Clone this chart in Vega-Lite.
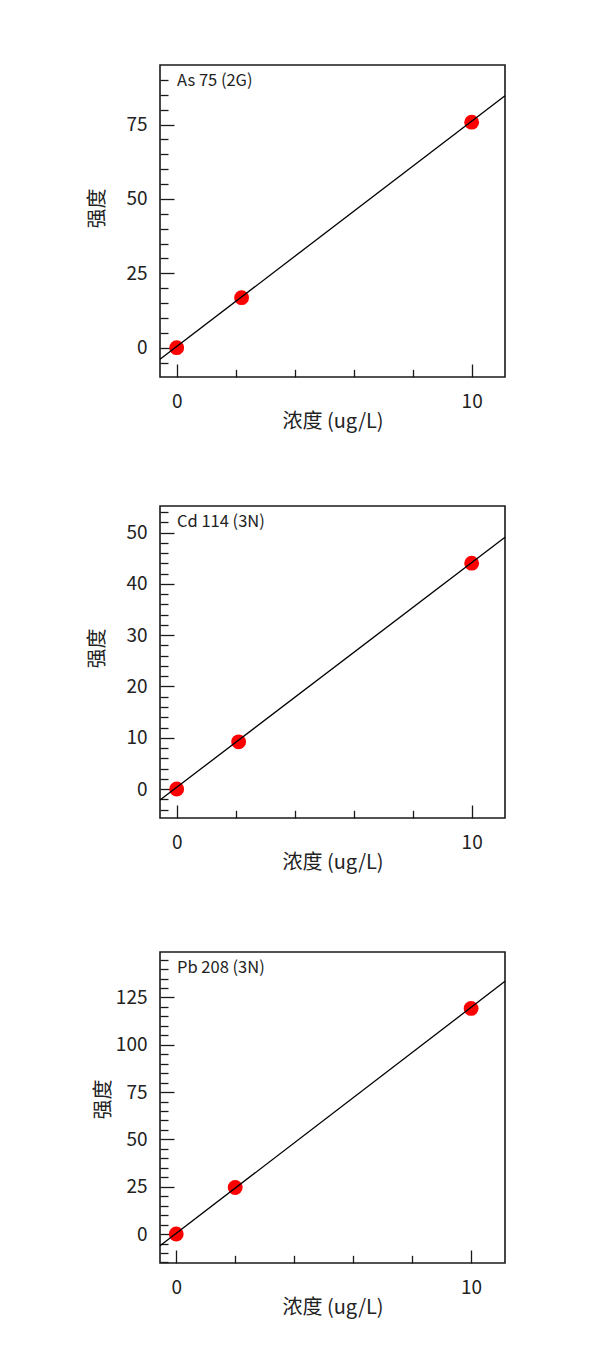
{
  "$schema": "https://vega.github.io/schema/vega-lite/v6.json",
  "background": "white",
  "padding": {"left": 86, "top": 64, "right": 20, "bottom": 20},
  "config": {
    "font": "Noto Sans CJK SC",
    "view": {"stroke": "#1a1a1a", "strokeWidth": 1.6},
    "axis": {
      "domain": false, "grid": false, "format": "d",
      "labelFont": "Noto Sans CJK SC", "labelFontSize": 19, "labelColor": "#222",
      "titleFont": "Noto Sans CJK SC", "titleFontSize": 20, "titleFontWeight": "normal", "titleColor": "#222",
      "tickColor": "#1a1a1a", "tickWidth": 1.3, "tickCount": 200,
      "labelOverlap": false, "labelFlush": false
    }
  },
  "spacing": 78,
  "vconcat": [
    {
      "spacing": 73,
      "vconcat": [
        {
          "width": 345, "height": 312,
          "title": {"text": "As 75 (2G)", "anchor": "start", "frame": "group", "offset": -37, "dx": 17, "baseline": "alphabetic", "fontSize": 16.5, "fontWeight": "normal", "font": "Noto Sans CJK SC", "color": "#222"},
          "resolve": {"axis": {"y": "independent"}},
          "layer": [
            {
              "data": {"values": [{"c": 0, "i": 0}, {"c": 2.2, "i": 16.8}, {"c": 10, "i": 75.8}]},
              "mark": {"type": "circle", "size": 220, "color": "#ff0000", "opacity": 1},
              "encoding": {
                "x": {"field": "c", "type": "quantitative", "title": "浓度 (ug/L)",
                  "scale": {"domain": [-0.566, 11.13], "nice": false, "zero": false},
                  "axis": {"values": [0, 2, 4, 6, 8, 10], "labelExpr": "datum.value % 10 === 0 ? datum.label : ''",
                    "tickSize": {"condition": {"test": "datum.value % 10 === 0", "value": -13}, "value": -7.7},
                    "labelPadding": 28, "minExtent": 35, "maxExtent": 35, "titlePadding": -1}},
                "y": {"field": "i", "type": "quantitative", "title": "强度",
                  "scale": {"domain": [-9.85, 95], "nice": false, "zero": false},
                  "axis": {"orient": "left", "values": [0, 25, 50, 75], "tickSize": -14,
                    "labelPadding": 27, "minExtent": 45, "maxExtent": 45, "titlePadding": 8, "titleY": 143}}
              }
            },
            {
              "data": {"values": [{"c": -0.566, "i": -3.9}, {"c": 11.13, "i": 84.7}]},
              "mark": {"type": "line", "color": "#000000", "strokeWidth": 1.3},
              "encoding": {
                "x": {"field": "c", "type": "quantitative"},
                "y": {"field": "i", "type": "quantitative",
                  "axis": {"orient": "left", "values": [-5, 5, 10, 15, 20, 30, 35, 40, 45, 55, 60, 65, 70, 80, 85, 90], "tickSize": -8, "labels": false, "title": null}}
              }
            }
          ]
        },
        {
          "width": 345, "height": 312,
          "title": {"text": "Cd 114 (3N)", "anchor": "start", "frame": "group", "offset": -37, "dx": 17, "baseline": "alphabetic", "fontSize": 16.5, "fontWeight": "normal", "font": "Noto Sans CJK SC", "color": "#222"},
          "resolve": {"axis": {"y": "independent"}},
          "layer": [
            {
              "data": {"values": [{"c": 0, "i": 0}, {"c": 2.1, "i": 9.2}, {"c": 10, "i": 44.05}]},
              "mark": {"type": "circle", "size": 220, "color": "#ff0000", "opacity": 1},
              "encoding": {
                "x": {"field": "c", "type": "quantitative", "title": "浓度 (ug/L)",
                  "scale": {"domain": [-0.566, 11.13], "nice": false, "zero": false},
                  "axis": {"values": [0, 2, 4, 6, 8, 10], "labelExpr": "datum.value % 10 === 0 ? datum.label : ''",
                    "tickSize": {"condition": {"test": "datum.value % 10 === 0", "value": -13}, "value": -7.7},
                    "labelPadding": 28, "minExtent": 35, "maxExtent": 35, "titlePadding": -1}},
                "y": {"field": "i", "type": "quantitative", "title": "强度",
                  "scale": {"domain": [-5.65, 55.2], "nice": false, "zero": false},
                  "axis": {"orient": "left", "values": [0, 10, 20, 30, 40, 50], "tickSize": -14,
                    "labelPadding": 27, "minExtent": 45, "maxExtent": 45, "titlePadding": 8, "titleY": 142}}
              }
            },
            {
              "data": {"values": [{"c": -0.566, "i": -2.14}, {"c": 11.13, "i": 49.1}]},
              "mark": {"type": "line", "color": "#000000", "strokeWidth": 1.3},
              "encoding": {
                "x": {"field": "c", "type": "quantitative"},
                "y": {"field": "i", "type": "quantitative",
                  "axis": {"orient": "left", "values": [-4, -2, 2, 4, 6, 8, 12, 14, 16, 18, 22, 24, 26, 28, 32, 34, 36, 38, 42, 44, 46, 48, 52, 54], "tickSize": -8, "labels": false, "title": null}}
              }
            }
          ]
        }
      ]
    },
    {
      "width": 345, "height": 311,
      "title": {"text": "Pb 208 (3N)", "anchor": "start", "frame": "group", "offset": -37, "dx": 17, "baseline": "alphabetic", "fontSize": 16.5, "fontWeight": "normal", "font": "Noto Sans CJK SC", "color": "#222"},
      "resolve": {"axis": {"y": "independent"}},
      "layer": [
        {
          "data": {"values": [{"c": 0, "i": 0}, {"c": 2.0, "i": 24.6}, {"c": 10, "i": 119.2}]},
          "mark": {"type": "circle", "size": 220, "color": "#ff0000", "opacity": 1},
          "encoding": {
            "x": {"field": "c", "type": "quantitative", "title": "浓度 (ug/L)",
              "scale": {"domain": [-0.55, 11.15], "nice": false, "zero": false},
              "axis": {"values": [0, 2, 4, 6, 8, 10], "labelExpr": "datum.value % 10 === 0 ? datum.label : ''",
                "tickSize": {"condition": {"test": "datum.value % 10 === 0", "value": -13}, "value": -7.7},
                "labelPadding": 28, "minExtent": 35, "maxExtent": 35, "titlePadding": -1}},
            "y": {"field": "i", "type": "quantitative", "title": "强度",
              "scale": {"domain": [-15.3, 149], "nice": false, "zero": false},
              "axis": {"orient": "left", "values": [0, 25, 50, 75, 100, 125], "tickSize": -14,
                "labelPadding": 27, "minExtent": 45, "maxExtent": 45, "titlePadding": 2, "titleY": 147}}
          }
        },
        {
          "data": {"values": [{"c": -0.55, "i": -6.2}, {"c": 11.15, "i": 133.5}]},
          "mark": {"type": "line", "color": "#000000", "strokeWidth": 1.3},
          "encoding": {
            "x": {"field": "c", "type": "quantitative"},
            "y": {"field": "i", "type": "quantitative",
              "axis": {"orient": "left", "values": [-15, -10, -5, 5, 10, 15, 20, 30, 35, 40, 45, 55, 60, 65, 70, 80, 85, 90, 95, 105, 110, 115, 120, 130, 135, 140, 145], "tickSize": -8, "labels": false, "title": null}}
          }
        }
      ]
    }
  ]
}
